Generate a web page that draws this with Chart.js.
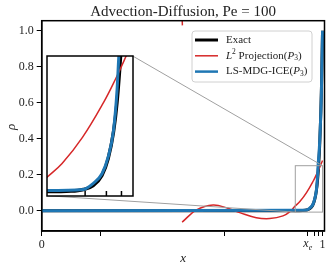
<!DOCTYPE html>
<html>
<head>
<meta charset="utf-8">
<script src="https://cdn.jsdelivr.net/npm/chart.js@4"></script>
<style>
html, body { margin: 0; padding: 0; background: #fff; }
#wrap { position: relative; width: 332px; height: 271px; }
#main { position: absolute; left: 0; top: 0; }
#inset { position: absolute; }
</style>
</head>
<body>
<div id="wrap">
  <canvas id="main" width="332" height="271"></canvas>
  <canvas id="inset"></canvas>
</div>
<script>
// exact solution
const xExact = [0, 0.90, 0.93, 0.944, 0.955, 0.965, 0.972, 0.978, 0.982, 0.986, 0.990, 0.994, 0.997, 1.0];
const rhoExact = [0, 0, 0.001, 0.004, 0.011, 0.030, 0.061, 0.110, 0.165, 0.250, 0.370, 0.550, 0.740, 1.0];

// LS-MDG-ICE(P3)
const xIce = [0, 0.90, 0.944, 0.955, 0.965, 0.972, 0.978, 0.982, 0.984, 0.988, 0.992, 0.996, 1.0];
const rhoIce = [0, 0.002, 0.004, 0.015, 0.033, 0.064, 0.113, 0.187, 0.249, 0.330, 0.460, 0.660, 1.0];

// L2 projection(P3)
const xL2 = [0.5, 0.551, 0.61, 0.663, 0.705, 0.764, 0.812, 0.859, 0.888, 0.90, 0.92, 0.943, 0.967, 0.981, 0.992, 1.0];
const rhoL2 = [-0.064, 0.004, 0.032, 0.013, -0.011, -0.039, -0.044, -0.029, 0.0, 0.022, 0.052, 0.100, 0.165, 0.210, 0.249, 0.279];
// piece of the previous element, only its end shows at the top
const xL2b = [0.4995, 0.501];
const rhoL2b = [1.10, 1.03];

const xTickVals = [0, 0.211, 0.652, 0.946, 0.970, 0.987, 1.0];
const xTickLabels = ['0', '', '', '', '', '', '1'];
const yTickVals = [0, 0.2, 0.4, 0.6, 0.8, 1.0];

const xRange = [0, 1.007];
const yRange = [-0.113, 1.056];
const insetX = [0.903, 1.0];
const insetY = [-0.008, 0.25];

// inset box on the page
const INSET = { left: 46.7, top: 56, right: 132.7, bottom: 195.7 };

const SERIF = "'Liberation Serif', 'DejaVu Serif', serif";
Chart.defaults.font.family = SERIF;
Chart.defaults.color = '#222';

const BLUE = '#1f77b4';
const RED = '#d62728';

function pts(xs, ys) {
    return xs.map((x, i) => ({ x: x, y: ys[i] }));
}

// order: lower number is drawn on top
function lineSet(label, xs, ys, color, width, mono, order) {
    return {
        label: label,
        data: pts(xs, ys),
        borderColor: color,
        borderWidth: width,
        pointRadius: 0,
        fill: false,
        tension: 0.4,
        cubicInterpolationMode: mono ? 'monotone' : 'default',
        order: order
    };
}

// draws a list of text pieces: {t, it, sz, dy}
function rich(ctx, parts, x, y, size) {
    let cx = x;
    parts.forEach(p => {
        const sz = p.sz || size;
        ctx.font = (p.it ? 'italic ' : '') + sz + 'px ' + SERIF;
        ctx.fillText(p.t, cx, y + (p.dy || 0));
        cx += ctx.measureText(p.t).width;
    });
}

const mainDecor = {
    id: 'mainDecor',
    afterDatasetsDraw(chart) {
        const ctx = chart.ctx;
        const a = chart.chartArea;
        const sx = chart.scales.x, sy = chart.scales.y;
        ctx.save();

        // zoom rectangle and connectors
        const rx0 = sx.getPixelForValue(insetX[0]), rx1 = sx.getPixelForValue(insetX[1]);
        const ry0 = sy.getPixelForValue(insetY[0]), ry1 = sy.getPixelForValue(insetY[1]);
        ctx.strokeStyle = '#a0a0a0';
        ctx.lineWidth = 1;
        ctx.strokeRect(rx0, ry1, rx1 - rx0, ry0 - ry1);
        ctx.beginPath();
        ctx.moveTo(INSET.left, INSET.bottom);
        ctx.lineTo(rx0, ry0);
        ctx.moveTo(INSET.right, INSET.top);
        ctx.lineTo(rx1, ry1);
        ctx.stroke();

        // frame
        ctx.strokeStyle = '#000';
        ctx.lineWidth = 1.5;
        ctx.strokeRect(a.left, a.top, a.right - a.left, a.bottom - a.top);

        // legend
        const lx = 192, ly = 31, lw = 120, lh = 51;
        ctx.fillStyle = 'rgba(255,255,255,0.85)';
        ctx.strokeStyle = '#d0d0d0';
        ctx.lineWidth = 1;
        ctx.beginPath();
        ctx.roundRect(lx, ly, lw, lh, 3);
        ctx.fill();
        ctx.stroke();
        const rows = [
            { c: '#000', w: 3, parts: [{ t: 'Exact' }] },
            { c: RED, w: 1.5, parts: [{ t: 'L', it: true }, { t: '2', sz: 7.5, dy: -4 }, { t: ' Projection(' }, { t: 'P', it: true }, { t: '3', sz: 7.5, dy: 2 }, { t: ')' }] },
            { c: BLUE, w: 2.5, parts: [{ t: 'LS-MDG-ICE(' }, { t: 'P', it: true }, { t: '3', sz: 7.5, dy: 2 }, { t: ')' }] }
        ];
        ctx.textBaseline = 'middle';
        ctx.fillStyle = '#222';
        rows.forEach((r, i) => {
            const yy = 40 + i * 15.8;
            ctx.strokeStyle = r.c;
            ctx.lineWidth = r.w;
            ctx.beginPath();
            ctx.moveTo(195, yy);
            ctx.lineTo(218, yy);
            ctx.stroke();
            rich(ctx, r.parts, 226, yy, 11);
        });

        // title
        ctx.textAlign = 'center';
        ctx.textBaseline = 'alphabetic';
        ctx.font = '15px ' + SERIF;
        ctx.fillText('Advection-Diffusion, Pe = 100', (a.left + a.right) / 2, 16);

        // x label
        ctx.font = 'italic 13px ' + SERIF;
        ctx.fillText('x', (a.left + a.right) / 2, 262);

        // rho label
        ctx.save();
        ctx.translate(11, (a.top + a.bottom) / 2 + 1);
        ctx.rotate(-Math.PI / 2);
        ctx.fillText('\u03c1', 0, 4);
        ctx.restore();

        // x_e tick label
        ctx.textAlign = 'left';
        const xe = sx.getPixelForValue(xTickVals[3]);
        rich(ctx, [{ t: 'x', it: true }, { t: 'e', it: true, sz: 8, dy: 3 }], xe - 4, 247, 12);

        ctx.restore();
    }
};

const scaleGrid = { drawOnChartArea: false, drawTicks: true, tickLength: 5, color: '#000', lineWidth: 1 };

new Chart(document.getElementById('main'), {
    type: 'line',
    data: {
        datasets: [
            lineSet('Exact', xExact, rhoExact, '#000', 3, true, 3),
            lineSet('L2 Projection(P3)', xL2, rhoL2, RED, 1.5, false, 2),
            lineSet('L2 Projection(P3) prev', xL2b, rhoL2b, RED, 1.5, false, 2),
            lineSet('LS-MDG-ICE(P3)', xIce, rhoIce, BLUE, 3, true, 1)
        ]
    },
    options: {
        responsive: false,
        animation: false,
        layout: { padding: { top: 20.7, right: 7.5, left: 0, bottom: 0 } },
        plugins: { legend: { display: false }, tooltip: { enabled: false } },
        scales: {
            x: {
                type: 'linear',
                min: xRange[0],
                max: xRange[1],
                afterBuildTicks: s => { s.ticks = xTickVals.map(v => ({ value: v })); },
                afterFit: s => { s.height = 40; },
                ticks: {
                    autoSkip: false, maxRotation: 0, minRotation: 0,
                    font: { size: 12 }, padding: 2,
                    callback: (v, i) => xTickLabels[i]
                },
                grid: scaleGrid,
                border: { display: true, color: '#000', width: 1.5 }
            },
            y: {
                type: 'linear',
                min: yRange[0],
                max: yRange[1],
                afterBuildTicks: s => { s.ticks = yTickVals.map(v => ({ value: v })); },
                afterFit: s => { s.width = 41.7; },
                ticks: {
                    font: { size: 12 }, padding: 3,
                    callback: v => v.toFixed(1)
                },
                grid: scaleGrid,
                border: { display: true, color: '#000', width: 1.5 }
            }
        }
    },
    plugins: [mainDecor]
});

// inset
const pad = 2;
const insetCanvas = document.getElementById('inset');
insetCanvas.width = Math.round(INSET.right - INSET.left + 2 * pad);
insetCanvas.height = Math.round(INSET.bottom - INSET.top + 2 * pad);
insetCanvas.style.left = (INSET.left - pad) + 'px';
insetCanvas.style.top = (INSET.top - pad) + 'px';

const insetDecor = {
    id: 'insetDecor',
    beforeDatasetsDraw(chart) {
        const a = chart.chartArea;
        chart.ctx.fillStyle = '#fff';
        chart.ctx.fillRect(a.left, a.top, a.right - a.left, a.bottom - a.top);
    },
    afterDatasetsDraw(chart) {
        const ctx = chart.ctx;
        const a = chart.chartArea;
        const sx = chart.scales.x;
        ctx.save();
        ctx.strokeStyle = '#000';
        ctx.lineWidth = 1.5;
        ctx.beginPath();
        xTickVals.forEach(v => {
            if (v > insetX[0] && v < insetX[1]) {
                const px = sx.getPixelForValue(v);
                ctx.moveTo(px, a.bottom);
                ctx.lineTo(px, a.bottom - 5);
            }
        });
        ctx.stroke();
        ctx.strokeRect(a.left, a.top, a.right - a.left, a.bottom - a.top);
        ctx.restore();
    }
};

new Chart(insetCanvas, {
    type: 'line',
    data: {
        datasets: [
            lineSet('Exact', xExact, rhoExact, '#000', 3.4, true, 3),
            lineSet('L2 Projection(P3)', xL2, rhoL2, RED, 1.5, false, 2),
            lineSet('LS-MDG-ICE(P3)', xIce, rhoIce, BLUE, 3, true, 1)
        ]
    },
    options: {
        responsive: false,
        animation: false,
        layout: { padding: pad },
        plugins: { legend: { display: false }, tooltip: { enabled: false } },
        scales: {
            x: { type: 'linear', display: false, min: insetX[0], max: insetX[1] },
            y: { type: 'linear', display: false, min: insetY[0], max: insetY[1] }
        }
    },
    plugins: [insetDecor]
});
</script>
</body>
</html>
